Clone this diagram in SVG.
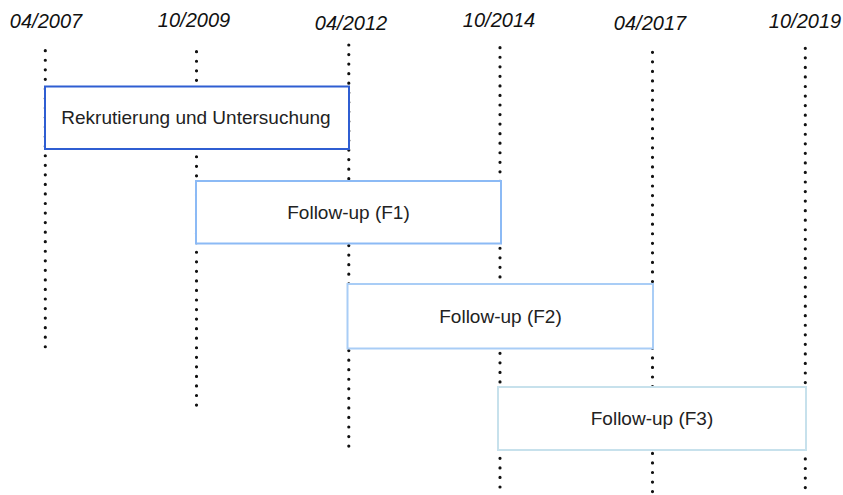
<svg xmlns="http://www.w3.org/2000/svg" width="843" height="495" viewBox="0 0 843 495">
<style>
.date{font-family:"Liberation Sans",Arial,sans-serif;font-style:italic;font-size:20px;fill:#111;text-anchor:middle}
.lbl{font-family:"Liberation Sans",Arial,sans-serif;font-size:19px;fill:#222;text-anchor:middle}
.dots{stroke:#111;stroke-width:3.2;stroke-linecap:round;stroke-dasharray:0 9.55;fill:none}
.box{fill:#fff;stroke-width:2}
</style>
<rect width="843" height="495" fill="#fff"/>
<g id="labels">
<text class="date" x="46" y="27.5">04/2007</text>
<text class="date" x="194" y="26.5">10/2009</text>
<text class="date" x="351" y="30">04/2012</text>
<text class="date" x="499" y="26.5">10/2014</text>
<text class="date" x="650" y="30">04/2017</text>
<text class="date" x="805" y="27.5">10/2019</text>
</g>
<g id="connectors">
<line class="dots" x1="45.3" y1="50.7" x2="45.3" y2="347.5"/>
<line class="dots" x1="196.5" y1="51.7" x2="196.5" y2="406"/>
<line class="dots" x1="348.8" y1="45" x2="348.8" y2="447"/>
<line class="dots" x1="500" y1="47.7" x2="500" y2="491"/>
<line class="dots" x1="652.5" y1="52.3" x2="652.5" y2="492"/>
<line class="dots" x1="805.3" y1="48.3" x2="805.3" y2="494"/>
</g>
<g id="n1">
<rect class="box" x="45" y="86.5" width="304" height="62.5" stroke="#2f5ed2"/>
<text class="lbl" x="196" y="124">Rekrutierung und Untersuchung</text>
</g>
<g id="n2">
<rect class="box" x="196" y="181" width="305" height="62.5" stroke="#8cbaf5"/>
<text class="lbl" x="348.5" y="219">Follow-up (F1)</text>
</g>
<g id="n3">
<rect class="box" x="347.5" y="284" width="305.5" height="64.5" stroke="#a9cdf6"/>
<text class="lbl" x="500.5" y="323">Follow-up (F2)</text>
</g>
<g id="n4">
<rect class="box" x="498" y="387" width="308" height="63" stroke="#c7e1ec"/>
<text class="lbl" x="652" y="425">Follow-up (F3)</text>
</g>
</svg>
